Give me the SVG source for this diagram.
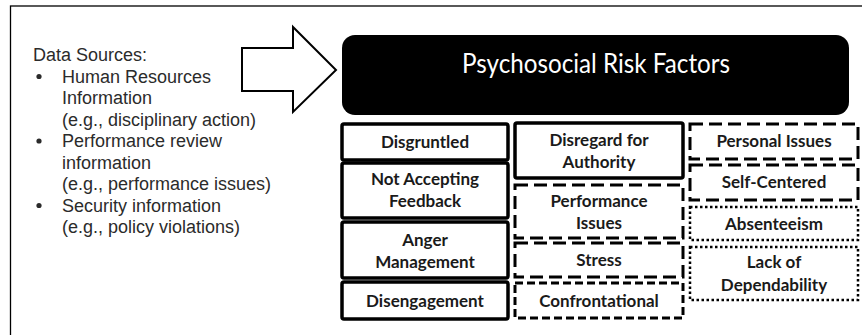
<svg xmlns="http://www.w3.org/2000/svg" width="862" height="335" viewBox="0 0 862 335">
<style>
.src{font-family:"Liberation Sans",Arial,sans-serif;font-size:18px;fill:#2b2b2b}
.lbl{font-family:Lato,"Noto Sans",sans-serif;font-weight:bold;font-size:17px;fill:#1a1a1a;text-anchor:middle}
.box{fill:#fff;stroke:#000}
.solid{stroke-width:3.5}
.dash{stroke-width:3;stroke-dasharray:13 6}
.sdash{stroke-width:3;stroke-dasharray:8 4}
.dot{stroke-width:2.5;stroke-dasharray:2.5 2.5}
</style>
<rect width="862" height="335" fill="#fff"/>
<rect x="10.5" y="6" width="870" height="350" fill="none" stroke="#000" stroke-width="1.3"/>
<g id="data-sources" class="src">
<text x="33" y="61">Data Sources:</text>
<circle cx="39" cy="76.5" r="2.6" fill="#2b2b2b"/>
<text x="62" y="82.5">Human Resources</text>
<text x="62" y="104">Information</text>
<text x="62" y="125.5">(e.g., disciplinary action)</text>
<circle cx="39" cy="141" r="2.6" fill="#2b2b2b"/>
<text x="62" y="147">Performance review</text>
<text x="62" y="168.5">information</text>
<text x="62" y="190">(e.g., performance issues)</text>
<circle cx="39" cy="205.5" r="2.6" fill="#2b2b2b"/>
<text x="62" y="211.5">Security information</text>
<text x="62" y="233">(e.g., policy violations)</text>
</g>
<g id="connectors">
<polygon points="242,48 293,48 293,27 336,70 293,112 293,91 242,91" fill="#fff" stroke="#000" stroke-width="2"/>
</g>
<g id="title">
<rect x="342" y="35" width="507" height="80" rx="13" fill="#000"/>
<text x="596" y="73" font-family="Lato,'Noto Sans',sans-serif" font-size="27" fill="#fff" text-anchor="middle" textLength="268" lengthAdjust="spacingAndGlyphs">Psychosocial Risk Factors</text>
</g>
<g id="disgruntled"><rect class="box solid" x="342" y="124" width="166" height="36" rx="2"/><text class="lbl" x="425" y="148">Disgruntled</text></g>
<g id="not-accepting-feedback"><rect class="box solid" x="342" y="163" width="166" height="55" rx="2"/><text class="lbl" x="425" y="185">Not Accepting</text><text class="lbl" x="425" y="207">Feedback</text></g>
<g id="anger-management"><rect class="box solid" x="342" y="222" width="166" height="56" rx="2"/><text class="lbl" x="425" y="246">Anger</text><text class="lbl" x="425" y="268">Management</text></g>
<g id="disengagement"><rect class="box solid" x="342" y="282" width="166" height="37" rx="2"/><text class="lbl" x="425" y="307">Disengagement</text></g>
<g id="disregard-for-authority"><rect class="box solid" x="515" y="123" width="168" height="55" rx="2"/><text class="lbl" x="599" y="146">Disregard for</text><text class="lbl" x="599" y="168">Authority</text></g>
<g id="performance-issues"><rect class="box dash" x="515" y="185" width="168" height="53"/><text class="lbl" x="599" y="207">Performance</text><text class="lbl" x="599" y="229">Issues</text></g>
<g id="stress"><rect class="box dash" x="515" y="243" width="168" height="34"/><text class="lbl" x="599" y="266">Stress</text></g>
<g id="confrontational"><rect class="box sdash" x="515" y="283" width="168" height="35"/><text class="lbl" x="599" y="307">Confrontational</text></g>
<g id="personal-issues"><rect class="box dash" x="690" y="124" width="168" height="35"/><text class="lbl" x="774" y="147">Personal Issues</text></g>
<g id="self-centered"><rect class="box dash" x="690" y="165" width="168" height="35"/><text class="lbl" x="774" y="188">Self-Centered</text></g>
<g id="absenteeism"><rect class="box dot" x="690" y="207" width="168" height="33"/><text class="lbl" x="774" y="230">Absenteeism</text></g>
<g id="lack-of-dependability"><rect class="box dot" x="690" y="247" width="168" height="53"/><text class="lbl" x="774" y="268">Lack of</text><text class="lbl" x="774" y="291">Dependability</text></g>
</svg>
